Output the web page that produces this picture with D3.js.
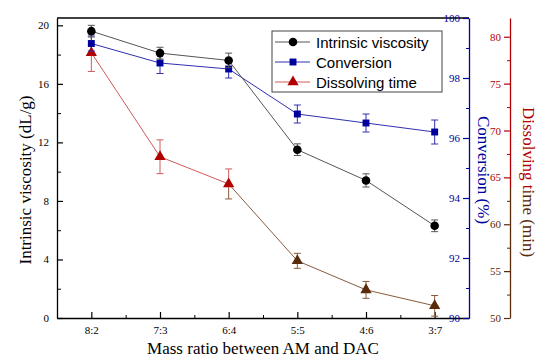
<!DOCTYPE html>
<html>
<head>
<meta charset="utf-8">
<script src="https://cdn.jsdelivr.net/npm/d3@7"></script>
<style>
  body { margin: 0; background: #fff; }
  svg { display: block; }
</style>
</head>
<body>
<script>
// data
var ratios = ["8:2", "7:3", "6:4", "5:5", "4:6", "3:7"];
var viscosity = [19.6, 18.1, 17.6, 11.5, 9.4, 6.3];
var viscosityErr = [0.4, 0.4, 0.5, 0.4, 0.45, 0.4];
var conversion = [99.15, 98.5, 98.3, 96.8, 96.5, 96.2];
var conversionErr = [0.25, 0.35, 0.3, 0.3, 0.3, 0.4];
var dissolving = [78.3, 67.2, 64.3, 56.1, 53.0, 51.3];
var dissolvingErr = [2.0, 1.8, 1.6, 0.8, 0.9, 1.1];

var width = 550, height = 361;
// plot box (window.top is read-only, so keep these in an object)
var box = {left: 57, right: 469, top: 18, bottom: 318};
var redAxisX = 510;

var svg = d3.select("body").append("svg")
  .attr("width", width)
  .attr("height", height);

var x = d3.scaleLinear().domain([0.5, 6.5]).range([box.left, box.right]);
var yV = d3.scaleLinear().domain([0, 20.5]).range([box.bottom, box.top]);
var yC = d3.scaleLinear().domain([90, 100]).range([box.bottom, box.top]);
var yD = d3.scaleLinear().domain([50, 82]).range([box.bottom, box.top]);

var red = "#b00000", brown = "#5a2a0c";
var navy = "#00009c";

// the red series fades to brown lower down in the original
var splitY = 188;
var defs = svg.append("defs");
defs.append("clipPath").attr("id", "upper")
  .append("rect").attr("x", 0).attr("y", 0).attr("width", width).attr("height", splitY);
defs.append("clipPath").attr("id", "lower")
  .append("rect").attr("x", 0).attr("y", splitY).attr("width", width).attr("height", height - splitY);

// frame top line
svg.append("line")
  .attr("x1", box.left).attr("x2", box.right).attr("y1", box.top).attr("y2", box.top)
  .attr("stroke", "#000").attr("stroke-width", 1.3);

var serif = "'Liberation Serif', 'Times New Roman', serif";

function styleAxis(g, color) {
  g.select(".domain").attr("stroke", color).attr("stroke-width", 1.3);
  g.selectAll(".tick line").attr("stroke", color).attr("stroke-width", 1.2);
  g.selectAll(".tick text")
    .attr("fill", color)
    .style("font-family", serif)
    .style("font-size", "11px");
}

// left axis: ticks inward
var leftMinor = svg.append("g").attr("transform", `translate(${box.left},0)`)
  .call(d3.axisRight(yV).tickValues([2, 6, 10, 14, 18]).tickSize(4).tickFormat(""));
leftMinor.select(".domain").remove();
leftMinor.selectAll(".tick line").attr("stroke", "#000");
var leftAxis = svg.append("g").attr("transform", `translate(${box.left},0)`)
  .call(d3.axisLeft(yV).tickValues([0, 4, 8, 12, 16, 20]).tickSizeInner(-6).tickSizeOuter(0).tickPadding(8));
styleAxis(leftAxis, "#000");

// bottom axis: ticks inward
var bottomMinor = svg.append("g").attr("transform", `translate(0,${box.bottom})`)
  .call(d3.axisTop(x).tickValues([1.5, 2.5, 3.5, 4.5, 5.5]).tickSize(3).tickFormat(""));
bottomMinor.select(".domain").remove();
bottomMinor.selectAll(".tick line").attr("stroke", "#000");
var bottomAxis = svg.append("g").attr("transform", `translate(0,${box.bottom})`)
  .call(d3.axisBottom(x).tickValues(d3.range(1, 7)).tickSizeInner(-6).tickSizeOuter(0).tickPadding(8)
    .tickFormat(function (d) { return ratios[d - 1]; }));
styleAxis(bottomAxis, "#000");

// conversion axis on the right edge of the plot
var convMinor = svg.append("g").attr("transform", `translate(${box.right},0)`)
  .call(d3.axisLeft(yC).tickValues([91, 93, 95, 97, 99]).tickSize(3).tickFormat(""));
convMinor.select(".domain").remove();
convMinor.selectAll(".tick line").attr("stroke", navy);
var convAxis = svg.append("g").attr("transform", `translate(${box.right},0)`)
  .call(d3.axisLeft(yC).tickValues([90, 92, 94, 96, 98, 100]).tickSizeInner(6).tickSizeOuter(0).tickPadding(3));
styleAxis(convAxis, navy);

// dissolving time axis, offset to the right
function drawRedAxis(color, clip) {
  var g = svg.append("g").attr("clip-path", `url(#${clip})`);
  var minor = g.append("g").attr("transform", `translate(${redAxisX},0)`)
    .call(d3.axisLeft(yD).tickValues([52.5, 57.5, 62.5, 67.5, 72.5, 77.5]).tickSize(3).tickFormat(""));
  minor.select(".domain").remove();
  minor.selectAll(".tick line").attr("stroke", color);
  var ax = g.append("g").attr("transform", `translate(${redAxisX},0)`)
    .call(d3.axisLeft(yD).tickValues([50, 55, 60, 65, 70, 75, 80]).tickSizeInner(6).tickSizeOuter(0).tickPadding(3));
  styleAxis(ax, color);
}
drawRedAxis(red, "upper");
drawRedAxis(brown, "lower");

// axis titles
svg.append("text")
  .attr("transform", `translate(31,${(box.top + box.bottom) / 2 + 12}) rotate(-90)`)
  .attr("text-anchor", "middle")
  .style("font-family", serif).style("font-size", "17px")
  .text("Intrinsic viscosity (dL/g)");
svg.append("text")
  .attr("x", (box.left + box.right) / 2).attr("y", 354)
  .attr("text-anchor", "middle")
  .style("font-family", serif).style("font-size", "17px")
  .text("Mass ratio between AM and DAC");
svg.append("text")
  .attr("transform", `translate(478,170) rotate(90)`)
  .attr("text-anchor", "middle")
  .attr("fill", navy)
  .style("font-family", serif).style("font-size", "17px")
  .text("Conversion (%)");
// clip on a wrapping group so the clip box is not rotated with the text
["upper", "lower"].forEach(function (clip, i) {
  svg.append("g").attr("clip-path", `url(#${clip})`)
    .append("text")
    .attr("transform", `translate(523,182) rotate(90)`)
    .attr("text-anchor", "middle")
    .attr("fill", i === 0 ? red : brown)
    .style("font-family", serif).style("font-size", "17px")
    .text("Dissolving time (min)");
});

// series
var idx = d3.range(ratios.length);

function drawSeries(values, errs, yScale, lineColor, markColor, shape, parent) {
  var g = parent || svg.append("g");
  g.append("path")
    .datum(idx)
    .attr("fill", "none")
    .attr("stroke", lineColor)
    .attr("stroke-width", 1)
    .attr("d", d3.line().x(function (i) { return x(i + 1); }).y(function (i) { return yScale(values[i]); }));
  var eb = g.selectAll(null).data(idx).enter().append("g").attr("stroke", lineColor).attr("stroke-width", 1);
  eb.append("line")
    .attr("x1", function (i) { return x(i + 1); }).attr("x2", function (i) { return x(i + 1); })
    .attr("y1", function (i) { return yScale(values[i] - errs[i]); })
    .attr("y2", function (i) { return yScale(values[i] + errs[i]); });
  [-1, 1].forEach(function (s) {
    eb.append("line")
      .attr("x1", function (i) { return x(i + 1) - 3.5; }).attr("x2", function (i) { return x(i + 1) + 3.5; })
      .attr("y1", function (i) { return yScale(values[i] + s * errs[i]); })
      .attr("y2", function (i) { return yScale(values[i] + s * errs[i]); });
  });
  g.selectAll(null).data(idx).enter().append("path")
    .attr("transform", function (i) { return `translate(${x(i + 1)},${yScale(values[i])})`; })
    .attr("d", shape)
    .attr("fill", markColor);
}

var circle = d3.symbol().type(d3.symbolCircle).size(58)();
var square = d3.symbol().type(d3.symbolSquare).size(48)();
var triangle = d3.symbol().type(d3.symbolTriangle).size(55)();

drawSeries(dissolving, dissolvingErr, yD, "#d05a5a", red, triangle,
  svg.append("g").attr("clip-path", "url(#upper)"));
drawSeries(dissolving, dissolvingErr, yD, "#8a5a3a", brown, triangle,
  svg.append("g").attr("clip-path", "url(#lower)"));
drawSeries(conversion, conversionErr, yC, "#3030b0", navy, square);
drawSeries(viscosity, viscosityErr, yV, "#555", "#000", circle);

// legend
var legend = svg.append("g").attr("transform", "translate(272,31)");
legend.append("rect")
  .attr("width", 170).attr("height", 61)
  .attr("fill", "#fff").attr("stroke", "#444").attr("stroke-width", 1);
var legendItems = [
  {name: "Intrinsic viscosity", line: "#555", mark: "#000", shape: circle},
  {name: "Conversion", line: "#3030b0", mark: navy, shape: square},
  {name: "Dissolving time", line: "#d05a5a", mark: red, shape: triangle}
];
legendItems.forEach(function (d, i) {
  var row = legend.append("g").attr("transform", `translate(0,${11 + i * 20})`);
  row.append("line").attr("x1", 3).attr("x2", 38).attr("stroke", d.line).attr("stroke-width", 1);
  row.append("path").attr("transform", "translate(21,0)").attr("d", d.shape).attr("fill", d.mark);
  row.append("text")
    .attr("x", 44).attr("y", 5.5)
    .style("font-family", "'Liberation Sans', Arial, sans-serif").style("font-size", "15px")
    .text(d.name);
});
</script>
</body>
</html>
